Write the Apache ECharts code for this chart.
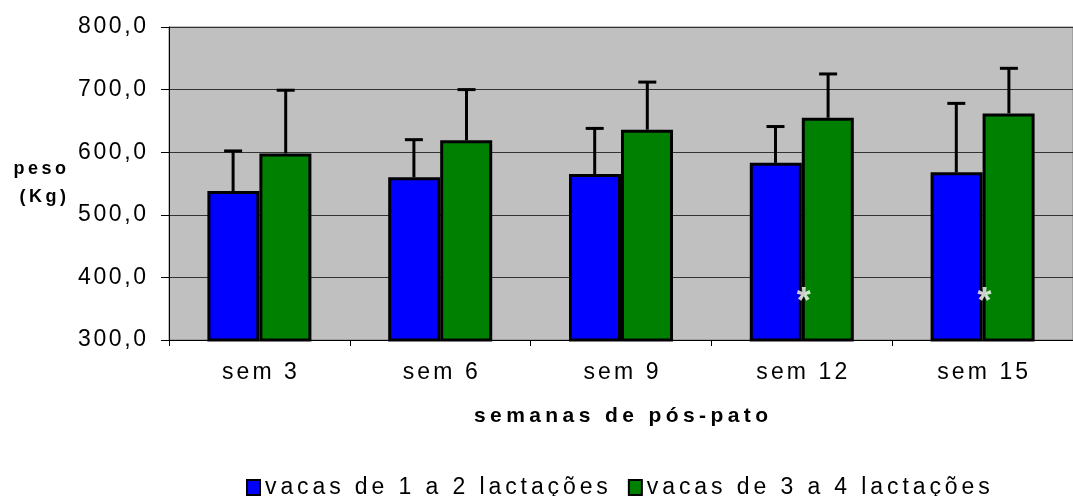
<!DOCTYPE html>
<html>
<head>
<meta charset="utf-8">
<script src="https://cdn.jsdelivr.net/npm/echarts@6/dist/echarts.min.js"></script>
<style>
  html, body { margin: 0; padding: 0; background: #fff; }
  #main { width: 1073px; height: 496px; }
</style>
</head>
<body>
<div id="main"></div>
<script>
var semanas = ['sem 3', 'sem 6', 'sem 9', 'sem 12', 'sem 15'];
var nomes = ['vacas de 1 a 2 lactações', 'vacas de 3 a 4 lactações'];
var peso12 = [538, 560, 565, 583, 568];
var peso34 = [598, 619, 636, 655, 662];
// topo das barras de erro (media + desvio)
var topo12 = [602, 620, 638, 641, 678];
var topo34 = [699, 700, 712, 725, 734];
// asteriscos (diferenca significativa)
var asterisco = ['-', '-', '-', 371, 371];

var dom = document.getElementById('main');
var myChart = echarts.init(dom);

var FONTE = 'Liberation Sans, Arial, sans-serif';

// espaçamento entre letras (como no grafico original)
function espaco(txt) {
    return Array.from(txt).map(function (c) { return '{t|' + c + '}'; }).join('{g| }');
}

function rico(size, peso, gap) {
    return {
        t: {fontSize: size, fontWeight: peso, color: '#000', fontFamily: FONTE},
        g: {width: gap, fontSize: size}
    };
}

function erroData(tops, vals) {
    return tops.map(function (t, i) { return [i, t, vals[i]]; });
}

function erroRender(offset) {
    return function (params, api) {
        var topo = api.coord([api.value(0), api.value(1)]);
        var base = api.coord([api.value(0), api.value(2)]);
        var cx = topo[0] + offset;
        return {
            type: 'group',
            children: [
                {type: 'line', shape: {x1: cx, y1: base[1], x2: cx, y2: topo[1]}, style: {stroke: '#000', lineWidth: 3}},
                {type: 'line', shape: {x1: cx - 9, y1: topo[1], x2: cx + 9, y2: topo[1]}, style: {stroke: '#000', lineWidth: 3}}
            ]
        };
    };
}

var option = {
    animation: false,
    textStyle: {fontFamily: FONTE},
    grid: {
        left: 169,
        top: 27,
        width: 914,
        height: 313,
        show: true,
        backgroundColor: '#C0C0C0',
        borderColor: '#808080',
        borderWidth: 1
    },
    legend: {
        left: 241,
        top: 471,
        itemGap: 20,
        itemWidth: 13,
        itemHeight: 15,
        icon: 'rect',
        data: nomes,
        formatter: function (name) { return espaco(name); },
        textStyle: {fontSize: 23, color: '#000', rich: rico(23, 'normal', 3.9)}
    },
    xAxis: {
        type: 'category',
        data: semanas,
        name: espaco('semanas de pós-pato'),
        nameLocation: 'middle',
        nameGap: 66,
        nameTextStyle: {fontSize: 21, fontWeight: 'bold', color: '#000', rich: rico(21, 'bold', 4.4)},
        axisLine: {lineStyle: {color: '#000', width: 1}},
        axisTick: {show: true, length: 6, lineStyle: {color: '#000'}},
        axisLabel: {
            interval: 0,
            margin: 21,
            fontSize: 23,
            color: '#000',
            formatter: function (v) { return espaco(v); },
            rich: rico(23, 'normal', 3.1)
        }
    },
    yAxis: {
        type: 'value',
        min: 300,
        max: 800,
        interval: 100,
        name: espaco('peso') + '\n' + espaco('(Kg)'),
        nameLocation: 'middle',
        nameRotate: 0,
        nameGap: 103,
        nameTextStyle: {fontSize: 18, fontWeight: 'bold', color: '#000', lineHeight: 28, align: 'right', rich: rico(18, 'bold', 3.5)},
        axisLine: {show: true, lineStyle: {color: '#000', width: 1}},
        axisTick: {show: true, length: 8, lineStyle: {color: '#000'}},
        splitLine: {lineStyle: {color: '#333', width: 1}},
        axisLabel: {
            margin: 23,
            fontSize: 23,
            color: '#000',
            formatter: function (v) { return espaco(v.toFixed(1).replace('.', ',')); },
            rich: rico(23, 'normal', 2.6)
        }
    },
    series: [
        {
            name: nomes[0],
            type: 'bar',
            barWidth: 52,
            barGap: '0%',
            data: peso12,
            itemStyle: {color: '#0000FF', borderColor: '#000', borderWidth: 3}
        },
        {
            name: nomes[1],
            type: 'bar',
            barWidth: 52,
            barGap: '0%',
            data: peso34,
            itemStyle: {color: '#008000', borderColor: '#000', borderWidth: 3}
        },
        {
            type: 'custom',
            renderItem: erroRender(-26.3),
            data: erroData(topo12, peso12),
            encode: {x: 0, y: 1},
            z: 5
        },
        {
            type: 'custom',
            renderItem: erroRender(26.3),
            data: erroData(topo34, peso34),
            encode: {x: 0, y: 1},
            z: 5
        },
        {
            type: 'scatter',
            data: asterisco,
            symbolSize: 1,
            itemStyle: {color: 'rgba(0,0,0,0)'},
            z: 6,
            label: {
                show: true,
                position: 'inside',
                offset: [2, 8],
                formatter: '*',
                color: '#fff',
                fontSize: 36,
                fontWeight: 'bold',
                fontFamily: FONTE
            }
        }
    ]
};

if (option && typeof option === "object") {
    myChart.setOption(option, true);
}

window.addEventListener("resize", function () {
    myChart.resize();
});
</script>
</body>
</html>
